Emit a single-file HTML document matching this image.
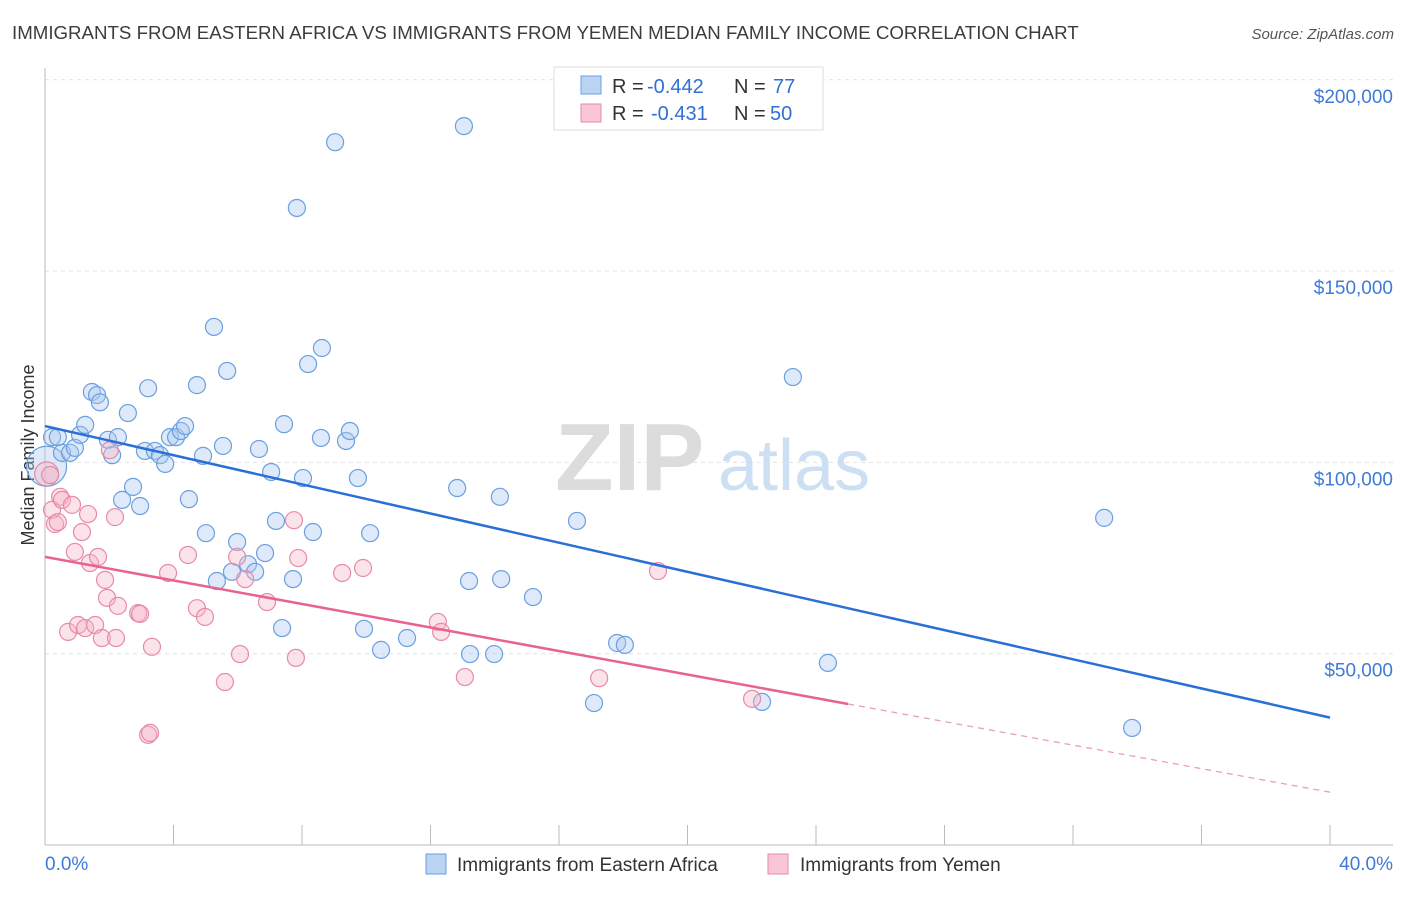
<!DOCTYPE html>
<html><head><meta charset="utf-8"><style>
body{margin:0;background:#fff;font-family:"Liberation Sans",sans-serif}
svg text{font-family:"Liberation Sans",sans-serif}
</style></head><body>
<svg id="chart" width="1406" height="892" viewBox="0 0 1406 892" xmlns="http://www.w3.org/2000/svg">
<text x="12" y="39" font-size="18.7" fill="#3c3c3c">IMMIGRANTS FROM EASTERN AFRICA VS IMMIGRANTS FROM YEMEN MEDIAN FAMILY INCOME CORRELATION CHART</text>
<text x="1394" y="39" font-size="15" fill="#555" text-anchor="end" font-style="italic">Source: ZipAtlas.com</text>
<g id="grid"></g>
<g>
<text x="555" y="490" font-size="96" fill="#dcdcdc" font-family="Liberation Serif" font-weight="bold">ZIP</text>
<text x="718" y="490" font-size="72" fill="#cddff2">atlas</text>
</g>
<text transform="translate(34,455) rotate(-90)" font-size="18" fill="#333" text-anchor="middle">Median Family Income</text>
<g id="pts"></g>
<g id="lines"></g>
<g>
<rect x="554" y="67" width="269" height="63" fill="#fff" stroke="#ddd"/>
<rect x="581" y="76" width="20" height="18" fill="#bcd4f4" stroke="#6a9fe0"/>
<rect x="581" y="104" width="20" height="18" fill="#f8c6d5" stroke="#e88aa8"/>
<text x="612" y="93" font-size="20" fill="#333">R =</text>
<text x="647" y="93" font-size="20" fill="#2f6fd6">-0.442</text>
<text x="734" y="93" font-size="20" fill="#333">N =</text>
<text x="773" y="93" font-size="20" fill="#2f6fd6">77</text>
<text x="612" y="120" font-size="20" fill="#333">R =</text>
<text x="651" y="120" font-size="20" fill="#2f6fd6">-0.431</text>
<text x="734" y="120" font-size="20" fill="#333">N =</text>
<text x="770" y="120" font-size="20" fill="#2f6fd6">50</text>
</g>
<g>
<rect x="426" y="854" width="20" height="20" fill="#bcd4f4" stroke="#6a9fe0"/>
<text x="457" y="871" font-size="19" fill="#333">Immigrants from Eastern Africa</text>
<rect x="768" y="854" width="20" height="20" fill="#f8c6d5" stroke="#e88aa8"/>
<text x="800" y="871" font-size="19" fill="#333">Immigrants from Yemen</text>
</g>
</svg>
<script>
const yTicks=[50000,100000,150000,200000];
const yTickLabels=["$50,000","$100,000","$150,000","$200,000"];
const xTickLabels=["0.0%","40.0%"];
const blueX=[0.22,0.40,0.53,0.78,0.93,1.09,1.25,1.46,1.62,1.71,1.96,2.09,2.27,2.58,2.74,2.40,2.96,3.11,3.21,3.42,3.58,3.74,3.89,4.08,4.23,4.36,4.48,4.73,4.92,5.01,5.26,5.35,5.54,5.67,5.82,5.98,6.32,6.54,6.66,6.85,7.04,7.19,7.38,7.44,7.72,7.84,8.03,8.19,8.34,8.59,8.62,9.03,9.37,9.49,9.74,9.93,10.12,10.46,11.27,12.83,13.04,13.20,13.23,13.98,14.16,14.20,15.19,16.56,17.09,17.81,18.05,22.32,23.28,24.37,32.97,33.84];
const blueY=[106.6,106.6,102.5,102.5,103.8,107.2,109.8,118.4,117.6,115.7,105.9,101.9,106.6,112.9,93.6,90.2,88.6,103.0,119.4,103.0,101.9,99.6,106.6,106.6,108.2,109.5,90.4,120.2,101.7,81.5,135.4,69.0,104.3,123.9,71.4,79.2,73.4,71.4,103.5,76.3,97.5,84.7,56.7,110.0,69.5,166.5,95.9,125.7,81.8,106.4,129.9,183.7,105.6,108.2,95.9,56.5,81.5,51.0,54.1,93.3,187.9,69.0,49.9,49.9,91.0,69.5,64.8,84.7,37.1,52.8,52.3,37.4,122.3,47.6,85.5,30.6];
const pinkX=[0.16,0.22,0.31,0.40,0.47,0.53,0.72,0.84,0.93,1.03,1.15,1.25,1.34,1.40,1.56,1.65,1.77,1.87,1.93,2.02,2.18,2.27,2.21,2.90,2.96,3.21,3.27,3.33,3.83,4.45,4.73,4.98,5.60,5.98,6.07,6.23,6.91,7.75,7.81,7.88,9.25,9.90,12.23,12.33,13.07,17.25,19.08,22.01];
const pinkY=[96.7,87.6,83.9,84.4,91.0,90.2,55.7,88.9,76.6,57.5,81.8,56.7,86.5,73.7,57.5,75.3,54.1,69.3,64.6,103.2,85.7,62.5,54.1,60.6,60.4,28.8,29.3,51.8,71.1,75.8,61.9,59.6,42.6,75.3,49.9,69.5,63.5,84.9,48.9,75.0,71.1,72.4,58.3,55.7,43.9,43.6,71.6,38.2];
const bigX=[0.05,0.05];const bigY=[99.0,97.0];
const blueTrend=[109.5,33.3];const pinkTrend=[75.3,13.8];const pinkSolidEnd=25.0;
const X=v=>45+v/40*1285, Y=v=>845-v*1000/50000*191.3;
const NS="http://www.w3.org/2000/svg";
function mk(tag,a,p){const e=document.createElementNS(NS,tag);for(const k in a)e.setAttribute(k,a[k]);p.appendChild(e);return e;}
const g=document.getElementById('grid');
yTicks.forEach((t,i)=>{
 const l=mk('line',{x1:45,x2:1393,y1:Y(t/1000),y2:Y(t/1000),stroke:'#e2e2e2','stroke-dasharray':'4,4'},g);
 
 
 const tx=mk('text',{x:1393,y:Y(t/1000)+23,'font-size':19,fill:'#3d7bd8','text-anchor':'end'},g);
 tx.textContent=yTickLabels[i];
 
 
});
const ax=mk('line',{x1:45,x2:1393,y1:845,y2:845,stroke:'#bbb'},g);


const ay=mk('line',{x1:45,x2:45,y1:68,y2:845,stroke:'#bbb'},g);


for(let i=0;i<=10;i++){const t=mk('line',{x1:X(i*4),x2:X(i*4),y1:825,y2:845,stroke:'#bbb'},g);
 
 }
[[0,'start',45],[40,'end',1393]].forEach((d,i)=>{const t=mk('text',{x:d[2],y:870,'font-size':19,fill:'#3d7bd8','text-anchor':d[1]},g);
 t.textContent=xTickLabels[i];
 
 });
const P=document.getElementById('pts');
function dots(xs,ys,fill,stroke,name,r){xs.forEach((x,i)=>{const c=mk('circle',{cx:X(x),cy:Y(ys[i]),r:r,fill:fill,'fill-opacity':0.38,stroke:stroke,'stroke-width':1.2},P);
 
 });}
dots(bigX.slice(0,1),bigY.slice(0,1),'#a9c8f0','#6a9fe0','blue-point-large',20);
dots(bigX.slice(1),bigY.slice(1),'#f4b6c9','#e88aa8','pink-point-large',12);
dots(blueX,blueY,'#a9c8f0','#6a9fe0','blue-point',8.5);
dots(pinkX,pinkY,'#f4b6c9','#e88aa8','pink-point',8.5);
const L=document.getElementById('lines');
const bl=mk('line',{x1:X(0),y1:Y(blueTrend[0]),x2:X(40),y2:Y(blueTrend[1]),stroke:'#2a6fd6','stroke-width':2.5},L);


const pm=pinkTrend[0]+(pinkTrend[1]-pinkTrend[0])*pinkSolidEnd/40;
const pl=mk('line',{x1:X(0),y1:Y(pinkTrend[0]),x2:X(pinkSolidEnd),y2:Y(pm),stroke:'#e8638f','stroke-width':2.5},L);


const pd=mk('line',{x1:X(pinkSolidEnd),y1:Y(pm),x2:X(40),y2:Y(pinkTrend[1]),stroke:'#e8a0b8','stroke-width':1.3,'stroke-dasharray':'6,5'},L);


</script>
</body></html>
